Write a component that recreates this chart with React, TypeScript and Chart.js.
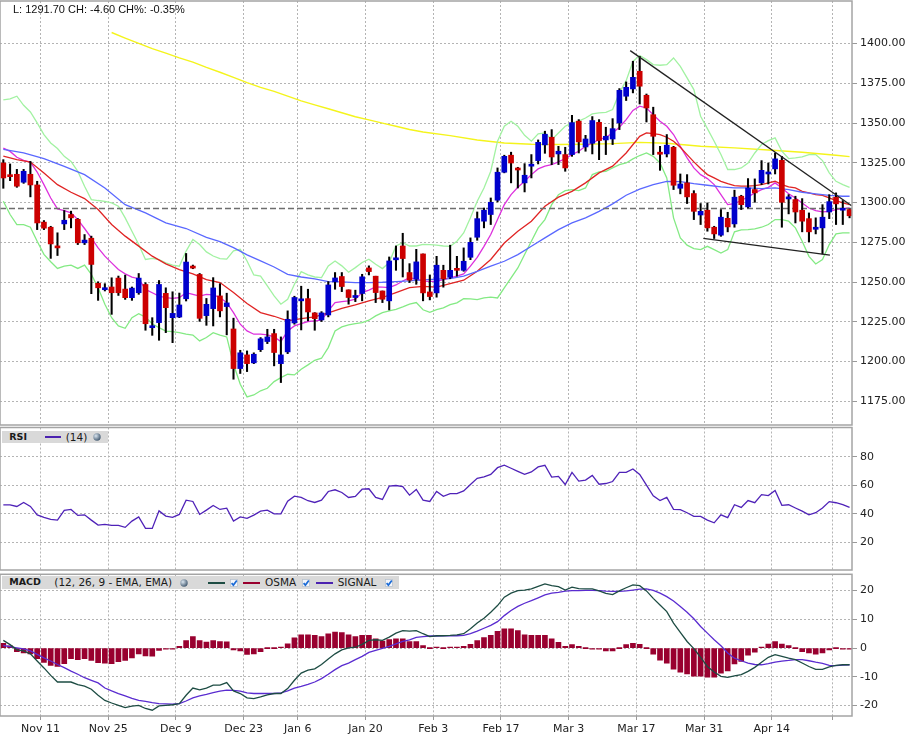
import React, { useEffect, useRef } from 'react';
import { Chart, registerables, ChartConfiguration, Plugin } from 'chart.js';
Chart.register(...registerables);

// daily candles, Nov 1 .. Apr 30 (one entry per trading day)
const OPEN = [1324.9, 1317.4, 1317.8, 1312.8, 1317.8, 1311.1, 1287.7, 1284.5, 1272.6, 1286.6, 1292.5, 1289.5, 1274.7, 1277.6, 1249.2, 1245.2, 1246.9, 1252.5, 1245.6, 1240.2, 1243.3, 1248.5, 1221.3, 1224.5, 1242.9, 1227.6, 1228.0, 1239.5, 1260.0, 1254.8, 1228.9, 1233.3, 1241.3, 1234.6, 1220.5, 1195.6, 1204.2, 1199.2, 1207.5, 1212.6, 1217.6, 1198.7, 1206.1, 1224.3, 1238.2, 1239.6, 1230.6, 1226.2, 1229.3, 1250.3, 1253.5, 1245.1, 1240.3, 1242.8, 1258.9, 1253.7, 1244.4, 1238.2, 1264.0, 1272.7, 1256.0, 1251.8, 1267.7, 1243.8, 1243.2, 1257.4, 1253.0, 1258.5, 1257.4, 1265.6, 1278.2, 1288.3, 1292.5, 1301.5, 1319.1, 1329.8, 1321.6, 1312.4, 1322.9, 1326.4, 1336.3, 1341.1, 1330.6, 1330.2, 1330.2, 1351.2, 1335.0, 1337.3, 1350.5, 1339.4, 1340.0, 1350.1, 1366.9, 1371.5, 1382.6, 1367.5, 1355.3, 1331.7, 1330.6, 1334.8, 1309.0, 1312.4, 1305.7, 1292.2, 1295.2, 1284.5, 1279.5, 1290.1, 1286.6, 1304.0, 1297.3, 1308.2, 1312.4, 1318.0, 1321.2, 1326.6, 1302.3, 1301.9, 1295.2, 1289.9, 1283.2, 1284.1, 1294.1, 1303.4, 1295.2, 1295.6];
const HIGH = [1327.0, 1324.3, 1320.9, 1320.9, 1325.9, 1313.4, 1288.7, 1285.1, 1281.0, 1295.0, 1294.6, 1290.0, 1279.9, 1278.9, 1250.2, 1249.0, 1252.7, 1253.8, 1254.4, 1246.9, 1255.4, 1249.6, 1227.6, 1251.0, 1246.4, 1243.9, 1243.1, 1268.0, 1260.7, 1255.4, 1239.7, 1252.8, 1249.0, 1243.0, 1227.3, 1207.1, 1206.7, 1205.5, 1215.1, 1220.3, 1220.3, 1215.5, 1231.9, 1241.1, 1247.4, 1245.5, 1230.8, 1231.4, 1250.3, 1256.0, 1256.0, 1245.1, 1244.9, 1254.9, 1260.2, 1253.7, 1244.4, 1265.8, 1272.7, 1280.7, 1261.6, 1270.6, 1267.7, 1254.5, 1266.2, 1260.6, 1273.2, 1266.2, 1271.5, 1277.8, 1294.1, 1296.6, 1302.9, 1321.8, 1329.8, 1331.7, 1322.2, 1324.5, 1330.2, 1339.4, 1344.9, 1345.9, 1335.4, 1334.8, 1354.9, 1352.2, 1342.3, 1354.1, 1352.2, 1347.4, 1352.8, 1371.7, 1375.9, 1388.9, 1392.0, 1368.3, 1360.0, 1335.4, 1342.8, 1335.4, 1318.0, 1317.6, 1307.5, 1299.4, 1299.8, 1285.1, 1295.6, 1293.9, 1307.8, 1304.6, 1315.1, 1314.9, 1326.4, 1324.9, 1331.2, 1329.1, 1305.0, 1304.0, 1302.5, 1293.5, 1290.4, 1298.7, 1305.0, 1306.1, 1301.3, 1296.0];
const LOW = [1309.0, 1313.8, 1309.6, 1312.1, 1303.6, 1283.0, 1283.0, 1264.9, 1266.7, 1283.0, 1284.1, 1273.6, 1273.6, 1242.7, 1238.5, 1244.4, 1229.7, 1241.6, 1239.1, 1238.5, 1242.3, 1219.7, 1216.5, 1213.4, 1218.2, 1211.9, 1227.6, 1238.1, 1258.4, 1225.3, 1222.8, 1222.4, 1228.1, 1216.8, 1188.9, 1192.5, 1193.7, 1198.7, 1206.3, 1211.3, 1197.3, 1186.8, 1205.0, 1223.5, 1219.9, 1225.6, 1219.7, 1225.2, 1228.1, 1245.5, 1244.0, 1236.1, 1237.7, 1238.2, 1254.5, 1237.1, 1237.1, 1232.5, 1257.4, 1253.2, 1249.7, 1248.6, 1238.2, 1238.8, 1240.5, 1246.8, 1252.2, 1253.7, 1256.8, 1264.1, 1276.3, 1284.1, 1286.2, 1300.4, 1318.7, 1312.4, 1309.2, 1306.7, 1315.5, 1324.3, 1331.0, 1323.9, 1323.9, 1319.7, 1329.1, 1331.2, 1332.3, 1330.6, 1327.0, 1330.2, 1336.5, 1345.9, 1364.2, 1369.0, 1362.0, 1350.7, 1330.2, 1320.3, 1328.7, 1308.2, 1305.5, 1299.4, 1289.3, 1286.2, 1282.0, 1277.4, 1278.8, 1281.6, 1284.5, 1295.6, 1296.6, 1300.2, 1311.3, 1311.7, 1318.0, 1284.5, 1292.9, 1287.2, 1281.6, 1275.3, 1280.3, 1267.7, 1289.9, 1286.2, 1286.2, 1290.4];
const CLOSE = [1315.5, 1316.3, 1310.3, 1319.7, 1311.1, 1287.2, 1283.9, 1274.0, 1271.5, 1288.9, 1290.4, 1274.7, 1276.4, 1261.1, 1246.4, 1246.2, 1243.3, 1243.3, 1240.2, 1246.2, 1252.5, 1223.8, 1222.4, 1248.5, 1233.9, 1230.3, 1235.6, 1262.6, 1258.8, 1227.2, 1236.0, 1246.3, 1231.9, 1236.9, 1195.6, 1205.5, 1198.7, 1204.6, 1214.3, 1215.5, 1205.7, 1204.2, 1226.6, 1240.3, 1239.4, 1231.2, 1227.0, 1230.6, 1248.2, 1252.6, 1247.2, 1240.3, 1241.5, 1253.3, 1256.6, 1243.4, 1239.2, 1263.3, 1265.2, 1264.8, 1251.2, 1262.7, 1243.2, 1240.9, 1260.6, 1252.0, 1257.4, 1257.4, 1263.1, 1275.0, 1289.9, 1295.2, 1300.2, 1319.1, 1329.1, 1324.9, 1320.5, 1317.2, 1324.1, 1337.9, 1343.0, 1328.7, 1332.3, 1321.8, 1350.3, 1338.2, 1340.0, 1351.6, 1339.0, 1341.7, 1346.5, 1370.6, 1372.5, 1378.8, 1373.2, 1359.5, 1341.7, 1330.4, 1336.1, 1310.9, 1311.7, 1303.6, 1294.5, 1294.5, 1284.1, 1280.3, 1290.8, 1284.7, 1303.4, 1298.7, 1309.2, 1306.1, 1320.3, 1319.1, 1327.5, 1300.2, 1303.6, 1294.1, 1288.3, 1281.6, 1284.5, 1290.8, 1300.6, 1299.2, 1296.3, 1291.7];
const PREV_CLOSE = 1296.3;

// overlays
const MA_FAST = [1334.3, 1332.2, 1328.5, 1326.6, 1325.5, 1319.2, 1311.3, 1302.9, 1296.0, 1295.0, 1293.5, 1289.3, 1283.7, 1277.8, 1271.5, 1266.3, 1262.1, 1257.9, 1255.2, 1253.1, 1252.1, 1245.4, 1243.3, 1241.2, 1240.2, 1239.7, 1240.2, 1243.3, 1242.3, 1241.2, 1242.3, 1241.9, 1240.3, 1237.1, 1230.8, 1223.5, 1219.3, 1217.2, 1217.2, 1216.8, 1215.5, 1212.6, 1219.3, 1222.4, 1223.9, 1225.2, 1225.6, 1226.0, 1231.9, 1237.1, 1237.7, 1238.2, 1239.2, 1243.4, 1244.9, 1247.0, 1246.8, 1246.5, 1248.2, 1250.7, 1252.8, 1251.8, 1250.6, 1250.4, 1250.5, 1251.6, 1252.6, 1253.7, 1255.1, 1260.0, 1265.6, 1272.5, 1279.9, 1289.3, 1298.7, 1305.0, 1309.6, 1313.4, 1317.6, 1321.2, 1322.9, 1323.9, 1325.6, 1327.7, 1330.2, 1332.3, 1335.4, 1337.5, 1339.6, 1341.1, 1343.8, 1347.4, 1352.2, 1358.0, 1360.6, 1359.5, 1355.3, 1351.2, 1348.0, 1342.8, 1335.4, 1328.1, 1321.8, 1317.6, 1315.1, 1311.3, 1305.0, 1298.7, 1299.4, 1301.3, 1303.6, 1306.1, 1308.2, 1309.6, 1312.4, 1309.2, 1305.5, 1302.9, 1299.8, 1296.6, 1295.0, 1294.1, 1294.5, 1295.6, 1296.2, 1296.6];
const MA_MID_AT = [0, 2, 4, 6, 8, 10, 12, 14, 16, 18, 20, 22, 24, 26, 28, 30, 32, 34, 36, 38, 40, 42, 44, 46, 48, 50, 52, 54, 56, 58, 60, 62, 64, 66, 68, 70, 72, 74, 76, 78, 80, 82, 84, 86, 88, 90, 92, 94, 95, 96, 97, 98, 99, 100, 101, 102, 103, 104, 105, 106, 107, 108, 109, 110, 111, 112, 113, 114, 115, 116, 117, 118, 119, 120, 121, 122, 123, 124, 125];
const MA_MID = [1329.3, 1327.0, 1325.5, 1318.6, 1311.3, 1306.5, 1302.5, 1295.6, 1286.2, 1278.9, 1272.6, 1266.3, 1261.5, 1257.9, 1255.2, 1251.5, 1249.7, 1243.4, 1236.5, 1230.8, 1228.5, 1225.6, 1227.0, 1228.1, 1230.6, 1233.5, 1235.6, 1238.2, 1240.3, 1243.4, 1246.5, 1247.3, 1246.8, 1249.1, 1251.2, 1256.8, 1264.2, 1274.6, 1282.0, 1288.3, 1297.7, 1303.4, 1307.1, 1312.4, 1318.7, 1322.9, 1331.2, 1341.7, 1343.8, 1343.4, 1342.8, 1341.1, 1338.6, 1334.8, 1330.2, 1325.6, 1321.4, 1317.6, 1315.5, 1313.4, 1311.9, 1310.7, 1310.3, 1310.3, 1310.7, 1311.3, 1312.4, 1313.4, 1311.3, 1309.9, 1309.2, 1307.1, 1306.1, 1305.0, 1304.6, 1302.9, 1301.3, 1299.8, 1298.7];
const MA_SLOW_AT = [0, 3, 6, 9, 12, 15, 18, 21, 24, 27, 30, 32, 34, 36, 38, 40, 42, 44, 46, 48, 50, 52, 54, 56, 58, 60, 62, 64, 66, 68, 70, 72, 74, 76, 78, 80, 82, 84, 86, 88, 90, 92, 94, 96, 98, 100, 102, 104, 106, 108, 110, 112, 114, 116, 118, 120, 122, 124, 125];
const MA_SLOW = [1333.5, 1331.2, 1327.6, 1322.8, 1317.6, 1309.2, 1298.7, 1293.5, 1287.2, 1283.7, 1278.1, 1275.5, 1271.7, 1267.1, 1263.3, 1259.5, 1254.9, 1253.2, 1252.0, 1250.3, 1250.1, 1249.7, 1249.7, 1249.9, 1250.3, 1250.7, 1251.4, 1251.8, 1252.2, 1253.7, 1256.8, 1260.0, 1263.1, 1267.3, 1272.5, 1277.8, 1283.0, 1287.2, 1290.4, 1294.5, 1299.2, 1304.6, 1308.5, 1311.3, 1313.4, 1313.2, 1311.9, 1310.9, 1309.9, 1309.2, 1309.2, 1308.8, 1309.2, 1308.2, 1306.5, 1305.5, 1304.6, 1304.0, 1304.0];
const MA_LONG_AT = [16, 18, 20, 22, 24, 26, 28, 30, 32, 34, 36, 38, 40, 42, 44, 46, 48, 50, 52, 54, 56, 58, 60, 62, 66, 70, 74, 78, 82, 86, 90, 94, 98, 103, 108, 113, 118, 123, 125];
const MA_LONG = [1407.0, 1403.5, 1400.2, 1396.8, 1394.0, 1391.0, 1388.3, 1385.0, 1382.0, 1378.8, 1375.5, 1372.5, 1370.0, 1367.0, 1364.0, 1361.5, 1359.0, 1356.5, 1354.0, 1352.0, 1350.0, 1348.0, 1346.0, 1344.4, 1342.1, 1339.4, 1337.5, 1336.7, 1336.5, 1336.7, 1337.1, 1337.9, 1337.3, 1335.4, 1334.4, 1333.1, 1331.7, 1329.8, 1328.9];
const BB_UPPER = [1364.6, 1365.2, 1366.9, 1361.2, 1357.0, 1350.1, 1342.8, 1337.5, 1334.0, 1329.1, 1325.9, 1319.7, 1310.3, 1301.9, 1301.3, 1300.8, 1299.8, 1297.7, 1290.4, 1282.0, 1273.6, 1264.2, 1264.9, 1264.2, 1262.1, 1260.7, 1260.0, 1269.5, 1276.8, 1273.6, 1269.0, 1266.4, 1264.8, 1264.4, 1269.6, 1270.6, 1263.3, 1254.5, 1253.7, 1247.6, 1241.3, 1236.1, 1239.2, 1248.6, 1256.6, 1254.5, 1253.2, 1252.8, 1260.2, 1263.3, 1260.2, 1256.2, 1259.1, 1262.3, 1264.4, 1261.2, 1258.5, 1262.3, 1272.7, 1274.8, 1272.7, 1272.7, 1273.7, 1273.5, 1273.2, 1272.7, 1272.5, 1275.7, 1280.9, 1290.4, 1300.8, 1309.2, 1319.7, 1338.6, 1348.0, 1351.2, 1348.0, 1342.3, 1338.6, 1343.2, 1343.8, 1339.6, 1343.8, 1348.0, 1350.1, 1351.2, 1353.2, 1355.8, 1356.4, 1356.8, 1358.5, 1369.0, 1376.7, 1388.8, 1392.5, 1389.9, 1386.8, 1386.4, 1386.8, 1391.0, 1385.7, 1378.4, 1371.1, 1354.3, 1346.5, 1338.6, 1330.2, 1320.8, 1320.8, 1321.8, 1324.9, 1331.2, 1336.5, 1339.0, 1340.7, 1332.3, 1327.7, 1328.1, 1328.7, 1330.2, 1330.2, 1326.4, 1318.7, 1313.4, 1311.3, 1309.6];
const BB_LOWER = [1300.8, 1292.5, 1286.2, 1286.2, 1284.5, 1275.7, 1267.4, 1262.8, 1258.6, 1260.0, 1260.7, 1258.6, 1260.7, 1254.8, 1246.4, 1236.0, 1227.6, 1222.4, 1220.9, 1227.6, 1230.1, 1228.0, 1223.8, 1221.3, 1219.2, 1218.8, 1218.2, 1217.2, 1216.7, 1213.0, 1215.1, 1218.2, 1216.6, 1215.5, 1198.3, 1185.7, 1177.8, 1179.0, 1181.6, 1183.2, 1187.4, 1189.9, 1192.0, 1191.6, 1195.2, 1197.9, 1200.8, 1202.1, 1208.8, 1219.3, 1221.8, 1223.1, 1223.9, 1224.5, 1226.0, 1228.7, 1230.8, 1231.9, 1232.9, 1234.4, 1236.1, 1237.1, 1232.6, 1231.0, 1232.7, 1233.8, 1235.8, 1236.9, 1239.6, 1239.4, 1239.0, 1240.0, 1240.5, 1240.0, 1246.3, 1252.6, 1258.9, 1267.3, 1275.7, 1284.1, 1289.3, 1298.7, 1305.0, 1307.5, 1308.2, 1307.5, 1309.2, 1317.6, 1319.3, 1319.7, 1321.8, 1323.9, 1324.9, 1327.5, 1329.6, 1331.2, 1329.1, 1324.9, 1315.5, 1290.4, 1277.8, 1273.2, 1271.1, 1270.4, 1272.5, 1270.4, 1268.3, 1270.4, 1281.6, 1282.8, 1283.0, 1283.4, 1284.5, 1286.2, 1289.3, 1289.3, 1288.3, 1284.1, 1275.7, 1266.2, 1261.4, 1264.2, 1273.6, 1280.3, 1280.9, 1280.9];

// hand-drawn trend lines (day index, price)
const TREND_HIGH_X = [92.6, 125.3];
const TREND_HIGH_Y = [1395.6, 1298.0];
const TREND_LOW_X = [103.4, 122.1];
const TREND_LOW_Y = [1277.5, 1267.0];

const RSI = [46.4, 46.4, 45.3, 48.1, 45.3, 39.4, 37.6, 36.2, 35.7, 42.5, 43.2, 39.0, 39.4, 35.7, 32.2, 32.7, 32.0, 32.0, 30.6, 35.0, 38.0, 29.9, 29.9, 42.2, 38.5, 37.6, 39.7, 49.7, 48.8, 39.7, 42.7, 46.0, 43.2, 44.1, 35.0, 38.0, 36.9, 39.2, 42.0, 42.7, 40.1, 40.1, 49.0, 52.5, 51.6, 49.3, 48.1, 49.7, 55.8, 57.0, 55.1, 51.6, 52.3, 57.4, 57.7, 51.6, 50.2, 59.5, 60.0, 59.3, 53.2, 57.2, 49.7, 48.8, 55.8, 52.4, 54.3, 54.3, 56.2, 60.7, 65.0, 66.1, 67.8, 72.5, 74.2, 72.1, 69.9, 67.8, 69.5, 73.0, 74.2, 65.9, 66.4, 60.7, 69.2, 63.1, 63.8, 67.1, 60.9, 61.4, 62.8, 69.2, 69.2, 71.6, 67.8, 60.2, 52.7, 49.4, 51.7, 43.2, 43.0, 40.9, 38.3, 38.3, 35.7, 33.8, 39.4, 37.5, 46.5, 44.6, 49.4, 47.9, 53.6, 52.9, 56.5, 46.1, 46.5, 44.2, 42.0, 39.4, 40.9, 44.2, 48.7, 47.9, 46.5, 44.6];

const MACD = [2.7, 1.2, -0.6, -1.0, -2.0, -4.5, -6.9, -9.5, -11.8, -11.8, -11.8, -12.7, -13.2, -14.3, -16.4, -18.2, -19.1, -19.9, -20.7, -20.2, -19.9, -21.0, -21.6, -20.1, -19.9, -19.7, -19.3, -16.4, -13.9, -14.5, -13.9, -12.9, -12.9, -12.0, -14.9, -15.8, -17.3, -17.6, -17.0, -16.3, -15.8, -15.8, -14.1, -11.2, -8.7, -7.7, -7.2, -5.7, -3.8, -2.0, -0.6, 0.1, 0.3, 1.3, 2.7, 2.9, 2.7, 3.8, 5.2, 6.1, 5.9, 6.1, 5.0, 4.0, 4.3, 4.3, 4.4, 4.6, 5.0, 6.7, 8.7, 10.4, 12.5, 14.8, 17.7, 19.1, 20.0, 20.2, 20.6, 21.5, 22.3, 21.7, 21.4, 20.2, 21.2, 20.7, 20.6, 20.6, 19.9, 19.0, 18.6, 19.9, 21.0, 22.0, 21.7, 19.9, 17.3, 15.0, 12.7, 8.7, 5.5, 2.3, -0.2, -3.2, -6.4, -8.3, -9.8, -10.2, -9.7, -9.2, -8.1, -6.7, -4.9, -3.2, -2.3, -2.9, -3.5, -4.0, -5.2, -6.4, -7.4, -7.4, -6.5, -6.0, -5.8, -5.8];
const SIGNAL = [0.9, 0.5, 0.1, -0.3, -1.0, -2.2, -3.4, -4.5, -5.7, -6.8, -8.0, -9.1, -10.3, -11.2, -12.1, -13.9, -14.9, -15.8, -16.6, -17.5, -18.2, -18.5, -19.0, -19.3, -19.4, -19.5, -19.3, -18.4, -17.3, -16.6, -16.1, -15.5, -15.0, -14.6, -14.7, -15.0, -15.6, -15.8, -15.8, -15.8, -15.8, -15.6, -14.9, -13.9, -13.3, -12.6, -11.8, -10.6, -9.1, -7.5, -6.1, -5.2, -4.0, -2.9, -1.5, -0.8, -0.1, 0.6, 1.5, 2.3, 2.9, 3.7, 4.0, 4.2, 4.2, 4.3, 4.3, 4.3, 4.4, 5.0, 5.9, 6.9, 7.9, 9.2, 11.3, 13.1, 14.5, 15.6, 16.5, 17.5, 18.5, 19.1, 19.4, 19.8, 20.0, 20.0, 20.1, 20.1, 20.0, 19.8, 19.7, 19.7, 19.9, 20.2, 20.5, 20.6, 20.1, 19.1, 17.9, 16.4, 14.5, 12.5, 10.2, 7.5, 5.2, 2.9, 0.8, -1.7, -3.5, -4.4, -5.2, -5.7, -5.8, -5.4, -4.9, -4.5, -4.3, -4.0, -4.0, -4.4, -4.9, -5.3, -6.0, -6.1, -5.9, -5.8];
const OSMA = [1.7, 0.8, -1.2, -1.7, -2.0, -3.7, -5.0, -6.0, -6.4, -5.4, -3.7, -4.0, -3.7, -4.3, -5.1, -5.2, -5.4, -4.7, -4.3, -3.4, -2.0, -2.7, -2.8, -0.8, -0.4, -0.1, 0.6, 2.6, 4.0, 2.6, 2.1, 2.6, 2.3, 2.2, -0.6, -1.0, -2.2, -2.0, -1.2, 0, 0, 0.1, 1.5, 3.6, 4.6, 4.6, 4.4, 4.0, 5.0, 5.6, 5.4, 4.6, 4.0, 4.4, 4.4, 3.2, 2.4, 3.0, 3.2, 3.2, 2.3, 2.3, 0.9, 0, 0.2, 0, 0.2, 0.2, 0.6, 1.3, 2.6, 3.7, 4.4, 5.8, 6.7, 6.7, 6.1, 4.6, 4.4, 4.4, 4.4, 3.2, 2.0, 0.6, 1.2, 0.6, 0, -0.2, -0.3, -1.0, -1.0, 0, 1.2, 1.7, 1.3, 0, -2.1, -4.2, -5.2, -7.3, -8.4, -9.0, -9.8, -9.8, -10.1, -10.1, -8.7, -7.9, -5.5, -4.6, -2.5, -1.4, 0.1, 1.4, 2.3, 1.4, 0.9, 0, -1.2, -1.7, -2.1, -1.7, -0.6, 0, -0.1, -0.1];

// week boundaries (between day slots) and their labels
const WEEK_TICKS = [5.5, 15.5, 25.5, 35.5, 43.5, 53.5, 63.5, 73.5, 83.5, 93.5, 103.5, 113.5, 122.5];
const WEEK_LABELS = ['Nov 11', 'Nov 25', 'Dec 9', 'Dec 23', 'Jan 6', 'Jan 20', 'Feb 3', 'Feb 17', 'Mar 3', 'Mar 17', 'Mar 31', 'Apr 14', ''];
const PRICE_TICKS = [1175, 1200, 1225, 1250, 1275, 1300, 1325, 1350, 1375, 1400];
const RSI_TICKS = [20, 40, 60, 80];
const MACD_TICKS = [-20, -10, 0, 10, 20];

const X_MIN = -0.49;
const X_MAX = 125.36;
const GRID = '#b4b4b4';
const FRAME = '#a4a4a4';
const FONT = 'DejaVu Sans';
const UP = '#0000cc';
const DOWN = '#cc0000';

Chart.defaults.font.family = FONT;

const framePlugin: Plugin = {
  id: 'frame',
  afterDraw(chart) {
    const { ctx, chartArea: a } = chart;
    ctx.save();
    ctx.strokeStyle = FRAME;
    ctx.lineWidth = 1.5;
    ctx.strokeRect(a.left, a.top, a.right - a.left, a.bottom - a.top);
    ctx.restore();
  },
};

const byDay = (ys: number[]) => ys.map((y, i) => ({ x: i, y }));
const byIdx = (xs: number[], ys: number[]) => xs.map((x, i) => ({ x, y: ys[i] }));

// no extra room for overhanging tick labels: the panels are pinned to exact pixels
const noPad = (s: any) => {
  s.paddingTop = 0;
  s.paddingBottom = 0;
  s.paddingLeft = 0;
  s.paddingRight = 0;
};

function xAxis(labels: boolean): any {
  return {
    type: 'linear',
    min: X_MIN,
    max: X_MAX,
    offset: false,
    afterBuildTicks: (s: any) => { s.ticks = WEEK_TICKS.map(v => ({ value: v })); },
    afterFit: (s: any) => { s.height = labels ? 25 : 0; noPad(s); },
    grid: { color: GRID, offset: false, drawTicks: labels, tickLength: 4, tickColor: '#999' },
    border: { display: false, dash: [2, 2] },
    ticks: {
      display: labels,
      autoSkip: false,
      maxRotation: 0,
      padding: 3,
      color: '#222',
      font: { family: FONT, size: 11 },
      callback: (_v: any, i: number) => WEEK_LABELS[i] ?? '',
    },
  };
}

function yAxis(min: number, max: number, ticks: number[], fmt: (v: number) => string): any {
  return {
    position: 'right',
    min,
    max,
    afterBuildTicks: (s: any) => { s.ticks = ticks.map(v => ({ value: v })); },
    afterFit: (s: any) => { s.width = 60; noPad(s); },
    grid: { color: GRID, drawTicks: true, tickLength: 5, tickColor: '#999' },
    border: { display: false, dash: [2, 2] },
    ticks: { padding: 3, color: '#222', font: { family: FONT, size: 11 }, callback: (v: any) => fmt(Number(v)) },
  };
}

const baseOptions = {
  animation: false as const,
  responsive: false,
  events: [] as any[],
  plugins: { legend: { display: false }, tooltip: { enabled: false } },
};

function line(data: any[], color: string, width = 1.3, order = 5, extra: any = {}) {
  return { type: 'line', data, borderColor: color, borderWidth: width, pointRadius: 0, fill: false, tension: 0, order, ...extra };
}

function priceConfig(): ChartConfiguration {
  return {
    type: 'bar',
    data: {
      datasets: [
        line(byDay(BB_UPPER), '#a2f2a2', 1.3, 6),
        line(byDay(BB_LOWER), '#84ea84', 1.3, 6),
        line(byIdx(MA_LONG_AT, MA_LONG), '#f4f41c', 1.4, 6),
        line(byIdx(MA_SLOW_AT, MA_SLOW), '#5a68ff', 1.3, 5),
        line(byIdx(MA_MID_AT, MA_MID), '#e02424', 1.3, 5),
        line(byDay(MA_FAST), '#dd30dd', 1.3, 5),
        line([{ x: X_MIN, y: PREV_CLOSE }, { x: X_MAX, y: PREV_CLOSE }], '#6e6e6e', 1.5, 4, { borderDash: [6, 3] }),
        {
          type: 'bar',
          data: LOW.map((l, i) => ({ x: i, y: [l, HIGH[i]] })),
          backgroundColor: '#000',
          barThickness: 1.4,
          grouped: false,
          order: 3,
        },
        {
          type: 'bar',
          data: OPEN.map((o, i) => ({ x: i, y: [o, CLOSE[i]] })),
          backgroundColor: OPEN.map((o, i) => (CLOSE[i] >= o ? UP : DOWN)),
          barThickness: 5,
          minBarLength: 2,
          grouped: false,
          order: 2,
        },
        line(byIdx(TREND_HIGH_X, TREND_HIGH_Y), '#222', 1.3, 1),
        line(byIdx(TREND_LOW_X, TREND_LOW_Y), '#222', 1.3, 1),
      ] as any,
    },
    options: {
      ...baseOptions,
      layout: { padding: { top: 1, bottom: 2, left: 0, right: 0 } },
      scales: {
        x: xAxis(false),
        y: yAxis(1160.1, 1426.8, PRICE_TICKS, v => v.toFixed(2)),
      },
    } as any,
    plugins: [framePlugin],
  };
}

function rsiConfig(): ChartConfiguration {
  return {
    type: 'line',
    data: { datasets: [line(byDay(RSI), '#4f22b8', 1.3, 1)] as any },
    options: {
      ...baseOptions,
      layout: { padding: { top: 1.5, bottom: 1, left: 0, right: 0 } },
      scales: { x: xAxis(false), y: yAxis(0.7, 100.7, RSI_TICKS, v => String(v)) },
    } as any,
    plugins: [framePlugin],
  };
}

function macdConfig(): ChartConfiguration {
  return {
    type: 'bar',
    data: {
      datasets: [
        {
          type: 'bar',
          data: byDay(OSMA),
          backgroundColor: '#99002f',
          barThickness: 5,
          minBarLength: 1,
          grouped: false,
          order: 3,
        },
        line(byDay(SIGNAL), '#5a2cd0', 1.3, 2),
        line(byDay(MACD), '#1d4c43', 1.3, 1),
      ] as any,
    },
    options: {
      ...baseOptions,
      layout: { padding: { top: 2.3, bottom: 0, left: 0, right: 0 } },
      scales: { x: xAxis(true), y: yAxis(-23.62, 25.67, MACD_TICKS, v => String(v)) },
    } as any,
    plugins: [framePlugin],
  };
}

const Panel: React.FC<{ top: number; height: number; make: () => ChartConfiguration }> = ({ top, height, make }) => {
  const ref = useRef<HTMLCanvasElement>(null);
  useEffect(() => {
    if (!ref.current) return;
    const chart = new Chart(ref.current, make());
    return () => chart.destroy();
  }, [make]);
  return (
    <canvas
      ref={ref}
      width={912}
      height={height}
      style={{ position: 'absolute', left: 0, top, width: 912, height }}
    />
  );
};

const Globe: React.FC<{ left: number }> = ({ left }) => (
  <svg width={8} height={8} style={{ position: 'absolute', left, top: 2.5 }}>
    <defs>
      <radialGradient id={`g${left}`} cx="35%" cy="35%" r="70%">
        <stop offset="0%" stopColor="#dbe6f0" />
        <stop offset="100%" stopColor="#41586f" />
      </radialGradient>
    </defs>
    <circle cx={4} cy={4} r={3.7} fill={`url(#g${left})`} />
  </svg>
);

const Check: React.FC<{ left: number }> = ({ left }) => (
  <svg width={8} height={8} style={{ position: 'absolute', left, top: 3 }}>
    <rect x={0.5} y={0.5} width={7} height={7} fill="#f4f6fa" stroke="#b8c2d0" strokeWidth={0.8} />
    <path d="M1.6 4.1 L3.4 6.1 L6.8 1.6" fill="none" stroke="#1a6ad6" strokeWidth={1.7} />
  </svg>
);

const Swatch: React.FC<{ left: number; width: number; color: string }> = ({ left, width, color }) => (
  <div style={{ position: 'absolute', left, top: 5.5, width, height: 2, background: color }} />
);

const txt = (left: number, bold = false): React.CSSProperties => ({
  position: 'absolute',
  left,
  top: 0,
  lineHeight: '12.5px',
  fontFamily: FONT,
  fontSize: bold ? 9.5 : 10.5,
  fontWeight: bold ? 'bold' : 'normal',
  color: '#1a1a1a',
  whiteSpace: 'nowrap',
});

const box = (top: number, width: number): React.CSSProperties => ({
  position: 'absolute',
  left: 2,
  top,
  width,
  height: 12.5,
  background: '#d9d9d9',
});

export default function App() {
  return (
    <div style={{ position: 'absolute', left: 0, top: 0, width: 912, height: 741, background: '#fff', overflow: 'hidden' }}>
      <Panel top={0} height={427} make={priceConfig} />
      <Panel top={426} height={145} make={rsiConfig} />
      <Panel top={572} height={169} make={macdConfig} />

      <div style={{ position: 'absolute', left: 13, top: 3, fontFamily: '"Liberation Sans", Arial, sans-serif', fontSize: 11, lineHeight: '13px', color: '#111', whiteSpace: 'nowrap' }}>
        L: 1291.70 CH: -4.60 CH%: -0.35%
      </div>

      <div style={box(430.5, 106)}>
        <span style={txt(7.3, true)}>RSI</span>
        <Swatch left={42.5} width={16} color="#4b22b0" />
        <span style={txt(63.7)}>(14)</span>
        <Globe left={90.5} />
      </div>

      <div style={box(576, 397)}>
        <span style={txt(7.3, true)}>MACD</span>
        <span style={txt(52.3)}>(12, 26, 9 - EMA, EMA)</span>
        <Globe left={177.5} />
        <Swatch left={206.3} width={17} color="#1d4c43" />
        <Check left={227.5} />
        <Swatch left={241.3} width={17} color="#99002f" />
        <span style={txt(263)}>OSMA</span>
        <Check left={300} />
        <Swatch left={314} width={17} color="#4b22b0" />
        <span style={txt(335.7)}>SIGNAL</span>
        <Check left={382.5} />
      </div>
    </div>
  );
}
